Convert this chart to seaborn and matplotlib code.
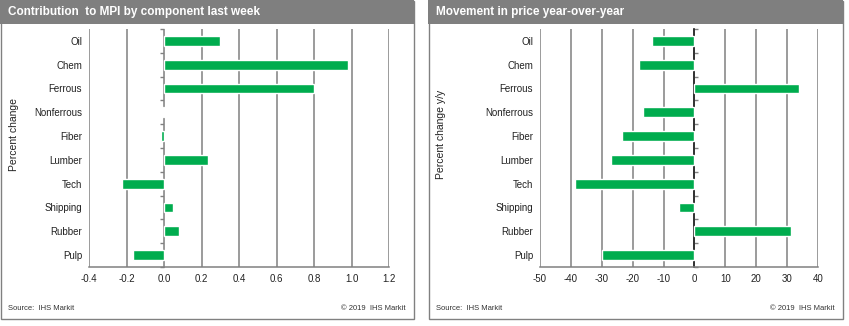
import matplotlib
matplotlib.use("Agg")
import matplotlib.pyplot as plt
from matplotlib.patches import Rectangle
import numpy as np
import pandas as pd
import seaborn as sns

categories = ["Oil", "Chem", "Ferrous", "Nonferrous", "Fiber", "Lumber", "Tech", "Shipping", "Rubber", "Pulp"]
contribution = [0.30, 0.98, 0.80, -0.007, -0.018, 0.234, -0.224, 0.046, 0.078, -0.167]
yoy_change = [-13.6, -18.1, 34.0, -16.8, -23.3, -26.9, -38.8, -4.9, 31.4, -29.9]

left_title = "Contribution  to MPI by component last week"
right_title = "Movement in price year-over-year"
left_ylabel = "Percent change"
right_ylabel = "Percent change y/y"
left_xticks = [-0.4, -0.2, 0.0, 0.2, 0.4, 0.6, 0.8, 1.0, 1.2]
right_xticks = [-50, -40, -30, -20, -10, 0, 10, 20, 30, 40]
source_text = "Source:  IHS Markit"
copyright_text = "\u00a9 2019  IHS Markit"

sns.set_theme(style="white")
plt.rcParams["font.family"] = ["Liberation Sans", "DejaVu Sans"]

W, H = 849, 326
fig = plt.figure(figsize=(W / 100, H / 100), dpi=100)

GREY = "#808080"
GREEN = "#00AC4E"

def fx(px):
    return px / W

def fy(py):
    return 1 - py / H

panels = [
    dict(x0=0, x1=413, ax_l=89, ax_r=389, vals=contribution, ticks=left_xticks,
         title=left_title, ylabel=left_ylabel, ylab_x=14, fmt="{:.1f}"),
    dict(x0=428, x1=842, ax_l=540, ax_r=818, vals=yoy_change, ticks=right_xticks,
         title=right_title, ylabel=right_ylabel, ylab_x=441, fmt="{:.0f}"),
]

top_px, bot_px = 29, 267

for p in panels:
    # panel frame
    fig.patches.append(Rectangle((fx(p["x0"] + 0.5), fy(319)), fx(p["x1"] - p["x0"]), (319 - 0.5) / H,
                                 transform=fig.transFigure, fill=False, edgecolor=GREY, linewidth=1.0))
    fig.patches.append(Rectangle((fx(p["x0"]), fy(24)), fx(p["x1"] - p["x0"] + 1), 24 / H,
                                 transform=fig.transFigure, facecolor="#7f7f7f", edgecolor="none"))
    fig.text(fx(p["x0"] + 8), fy(12), p["title"], color="white", fontsize=8.5, fontweight="bold",
             va="center", ha="left")
    fig.text(fx(p["x0"] + 8), fy(308), source_text, fontsize=5.5, va="center", ha="left", color="#333333")
    fig.text(fx(p["x1"] - 7), fy(308), copyright_text, fontsize=5.5, va="center", ha="right", color="#333333")

    ax = fig.add_axes([fx(p["ax_l"]), fy(bot_px), fx(p["ax_r"] - p["ax_l"]), (bot_px - top_px) / H])
    df = pd.DataFrame({"cat": categories, "val": p["vals"]})
    sns.barplot(data=df, x="val", y="cat", color=GREEN, saturation=1, width=0.42, ax=ax, orient="h")
    ax.set_xlim(p["ticks"][0], p["ticks"][-1])
    ax.set_ylim(len(categories) - 0.5, -0.5)
    ax.set_xticks(p["ticks"])
    ax.set_xticklabels([p["fmt"].format(t) for t in p["ticks"]], fontsize=7, color="#222222")
    ax.tick_params(axis="x", length=0, pad=5)
    ax.tick_params(axis="y", length=0, pad=5, labelsize=7, labelcolor="#222222")
    ax.set_xlabel("")
    ax.set_ylabel("")
    ax.grid(axis="x", color=GREY, linewidth=1.1)
    ax.set_axisbelow(True)
    for s in ["top", "right", "left"]:
        ax.spines[s].set_visible(False)
    ax.spines["bottom"].set_color(GREY)
    ax.spines["bottom"].set_linewidth(1.1)
    # zero axis with category boundary ticks
    lo, hi = p["ticks"][0], p["ticks"][-1]
    zpos = (0 - lo) / (hi - lo)
    sec = ax.secondary_yaxis(zpos)
    sec.set_yticks(np.arange(-0.5, len(categories), 1.0))
    sec.set_yticklabels([])
    sec.tick_params(axis="y", length=3, width=1, color=GREY, direction="out")
    sec.spines["left"].set_color("#9a9a9a")
    sec.spines["left"].set_linewidth(0.7)
    sec.set_zorder(0.5)
    fig.text(fx(p["ylab_x"]), fy(134), p["ylabel"], rotation=90, fontsize=7.5,
             va="center", ha="center", color="#222222")

fig.savefig("out.png", dpi=100)
